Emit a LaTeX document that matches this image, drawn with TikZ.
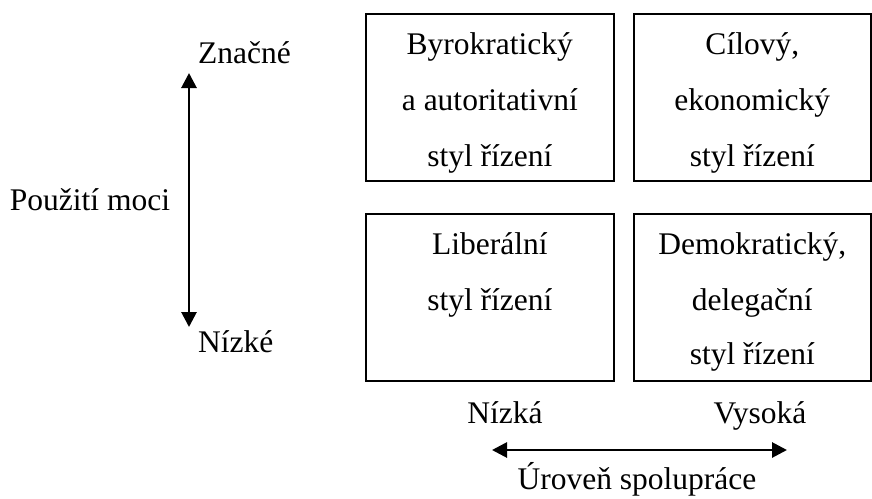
\documentclass[tikz,border=0pt]{standalone}
\usepackage{fontspec}
\setmainfont{Liberation Serif}
\usetikzlibrary{arrows.meta,calc}

\tikzset{
  stylebox/.style={draw=black, line width=1.6pt, inner sep=0pt, anchor=north west},
  txt/.style={anchor=base, inner sep=0pt, font=\fontsize{31.5}{40}\selectfont},
  axis/.style={line width=2.8pt, {Triangle[width=15pt,length=15pt]}-{Triangle[width=15pt,length=15pt]}}
}

\begin{document}
\begin{tikzpicture}[x=1pt,y=-1pt]
\useasboundingbox (0,0) rectangle (872,498);

% the four management-style boxes
\node[stylebox, minimum width=248pt, minimum height=167pt] (tl) at (365,13) {};
\node[stylebox, minimum width=237pt, minimum height=167pt] (tr) at (633,13) {};
\node[stylebox, minimum width=248pt, minimum height=167pt] (bl) at (365,213) {};
\node[stylebox, minimum width=237pt, minimum height=167pt] (br) at (633,213) {};

% box texts, one baseline per line
\node[txt] (tl1) at ($(tl.north)+(0,41)$) {Byrokratický};
\node[txt] (tl2) at ($(tl.north)+(0,97)$) {a autoritativní};
\node[txt] (tl3) at ($(tl.north)+(0,153)$) {styl řízení};

\node[txt] (tr1) at ($(tr.north)+(0,41)$) {Cílový,};
\node[txt] (tr2) at ($(tr.north)+(0,97)$) {ekonomický};
\node[txt] (tr3) at ($(tr.north)+(0,153)$) {styl řízení};

\node[txt] (bl1) at ($(bl.north)+(0,41)$) {Liberální};
\node[txt] (bl2) at ($(bl.north)+(0,97)$) {styl řízení};

\node[txt] (br1) at ($(br.north)+(0,41)$) {Demokratický,};
\node[txt] (br2) at ($(br.north)+(0,97)$) {delegační};
\node[txt] (br3) at ($(br.north)+(0,151)$) {styl řízení};

% vertical axis: use of power
\node[txt, anchor=base west] (hi) at (198,63) {Značné};
\node[txt, anchor=base west] (lo) at (198,352) {Nízké};
\node[txt] (power) at (90,210) {Použití moci};
\coordinate (vtop) at (189,73);
\coordinate (vbot) at (189,327);
\draw[axis] (vtop) -- (vbot);

% horizontal axis: level of cooperation
\node[txt] (low) at (505,423) {Nízká};
\node[txt] (high) at (760,423) {Vysoká};
\node[txt] (coop) at (637,489) {Úroveň spolupráce};
\coordinate (hleft) at (492,450);
\coordinate (hright) at (787,450);
\draw[axis] (hleft) -- (hright);
\end{tikzpicture}
\end{document}
